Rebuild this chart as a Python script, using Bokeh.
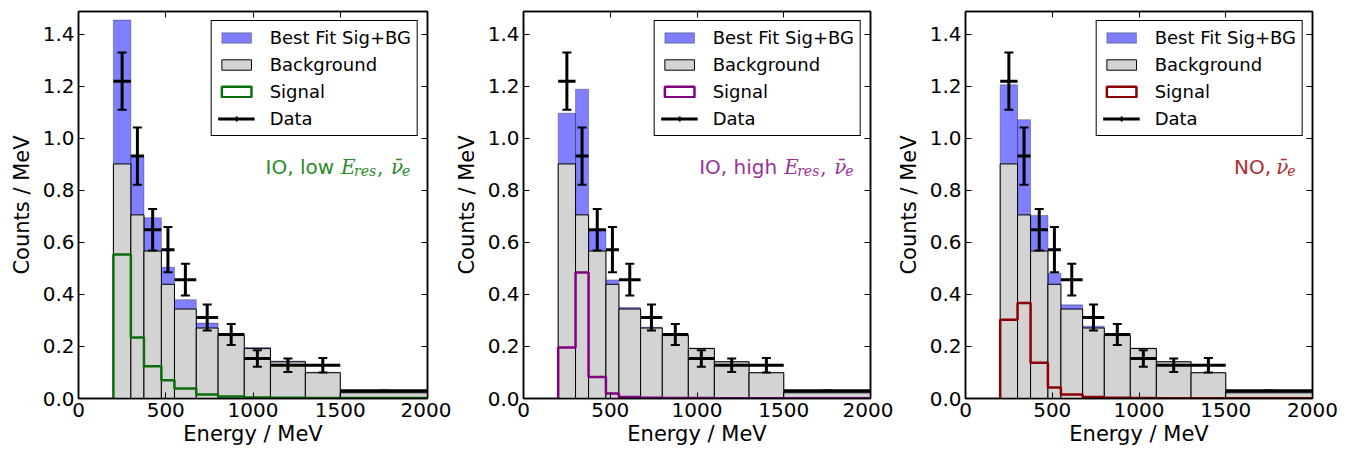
from bokeh.plotting import figure
from bokeh.layouts import row
from bokeh.models import (Range1d, LinearAxis, SingleIntervalTicker, PrintfTickFormatter,
                          CustomJSTickFormatter, Legend, LegendItem, Label)
from bokeh.embed import file_html
from bokeh.resources import INLINE

NAN = float("nan")

# ---------------- data ----------------
edges = [200, 300, 375, 475, 550, 675, 800, 950, 1100, 1300, 1500, 2000]

background = [0.902, 0.706, 0.567, 0.439, 0.344, 0.271, 0.242, 0.192, 0.141, 0.099, 0.022]

data_vals = [1.22, 0.932, 0.649, 0.572, 0.457, 0.311, 0.246, 0.154, 0.128, 0.128, 0.030]
data_errs = [0.11, 0.110, 0.080, 0.087, 0.061, 0.050, 0.040, 0.032, 0.026, 0.028, 0.0]

sig_io_low = [0.554, 0.235, 0.124, 0.070, 0.038, 0.015, 0.008, 0.004, 0.003, 0.002, 0.002]
best_io_low = [1.455, 0.934, 0.695, 0.505, 0.380, 0.290, 0.250, 0.196, 0.144, 0.101, 0.024]

sig_io_high = [0.196, 0.484, 0.083, 0.019, 0.006, 0.003, 0.002, 0.002, 0.001, 0.001, 0.001]
best_io_high = [1.097, 1.189, 0.648, 0.456, 0.350, 0.274, 0.244, 0.194, 0.142, 0.100, 0.023]

sig_no = [0.303, 0.367, 0.137, 0.042, 0.015, 0.006, 0.003, 0.002, 0.001, 0.001, 0.001]
best_no = [1.206, 1.072, 0.704, 0.481, 0.360, 0.278, 0.245, 0.194, 0.142, 0.100, 0.023]

legend_labels = ["Best Fit Sig+BG", "Background", "Signal", "Data"]
x_label = "Energy / MeV"
y_label = "Counts / MeV"

FONT = "DejaVu Sans"
SERIF = "DejaVu Serif"


def make_panel(best, sig, line_color, text_color, prefix, with_eres, bl, br):
    p = figure(width=bl + 349 + br, height=453, x_range=Range1d(0, 2000), y_range=Range1d(0, 1.488),
               output_backend="svg", toolbar_location=None,
               min_border_left=bl, min_border_right=br, min_border_top=11, min_border_bottom=55)
    p.xgrid.visible = False
    p.ygrid.visible = False
    p.outline_line_color = "black"
    p.outline_line_width = 1.5
    p.background_fill_color = "white"
    p.border_fill_color = "white"

    xt = SingleIntervalTicker(interval=500, num_minor_ticks=0)
    yt = SingleIntervalTicker(interval=0.2, num_minor_ticks=0)
    for ax, tk in ((p.xaxis[0], xt), (p.yaxis[0], yt)):
        ax.ticker = tk
        ax.major_tick_in = 6
        ax.major_tick_out = 0
        ax.minor_tick_in = 0
        ax.minor_tick_out = 0
        ax.major_tick_line_color = "black"
        ax.axis_line_color = "black"
        ax.axis_line_width = 1.5
        ax.major_label_text_font = FONT
        ax.major_label_text_font_size = "20px"
        ax.major_label_text_color = "black"
        ax.major_label_standoff = 4
        ax.axis_label_text_font = FONT
        ax.axis_label_text_font_size = "21px"
        ax.axis_label_text_font_style = "normal"
        ax.axis_label_text_color = "black"
    p.xaxis[0].axis_label = x_label
    p.yaxis[0].axis_label = y_label
    p.xaxis[0].axis_label_standoff = 2
    p.yaxis[0].axis_label_standoff = 6
    p.yaxis[0].formatter = PrintfTickFormatter(format="%.1f")

    blank = CustomJSTickFormatter(code="return ''")
    for loc, tk in (("above", xt), ("right", yt)):
        ax = LinearAxis(ticker=tk, formatter=blank, major_label_text_font_size="8px",
                        major_label_standoff=0,
                        major_tick_in=6, major_tick_out=0, minor_tick_in=0, minor_tick_out=0,
                        axis_line_color="black", axis_line_width=1.5,
                        major_tick_line_color="black")
        p.add_layout(ax, loc)

    lefts = edges[:-1]
    rights = edges[1:]
    centers = [(a + b) / 2 for a, b in zip(lefts, rights)]

    r_best = p.quad(left=lefts, right=rights, bottom=0, top=best,
                    fill_color="blue", fill_alpha=0.5, line_color="black", line_alpha=0.3,
                    line_width=1)
    r_bg = p.quad(left=lefts, right=rights, bottom=0, top=background,
                  fill_color="#d3d3d3", line_color="black", line_width=1)

    step_x = [edges[0]] + edges
    step_y = [0] + sig + [sig[-1]]
    p.step(x=step_x, y=step_y, mode="after", line_color=line_color, line_width=2.5)
    # legend-only swatch (NaN geometry: not drawn inside the frame)
    r_sig_leg = p.quad(left=[NAN], right=[NAN], bottom=[NAN], top=[NAN], fill_color="white",
                       line_color=line_color, line_width=2.5)

    lo = [v - e for v, e in zip(data_vals, data_errs)]
    hi = [v + e for v, e in zip(data_vals, data_errs)]
    r_h = p.segment(x0=lefts, x1=rights, y0=data_vals, y1=data_vals,
                    line_color="black", line_width=3)
    p.segment(x0=centers, x1=centers, y0=lo, y1=hi, line_color="black", line_width=3)
    p.scatter(x=centers, y=hi, marker="dash", size=9, line_color="black", line_width=2)
    p.scatter(x=centers, y=lo, marker="dash", size=9, line_color="black", line_width=2)
    r_cross = p.scatter(x=[NAN], y=[NAN], marker="cross", size=16, line_color="black",
                        line_width=2)

    legend = Legend(items=[
        LegendItem(label=legend_labels[0], renderers=[r_best]),
        LegendItem(label=legend_labels[1], renderers=[r_bg]),
        LegendItem(label=legend_labels[2], renderers=[r_sig_leg]),
        LegendItem(label=legend_labels[3], renderers=[r_h, r_cross]),
    ], location="top_right", margin=9, padding=6, spacing=6,
        glyph_width=37, glyph_height=13, label_height=21, label_standoff=15,
        label_text_font=FONT, label_text_font_size="18px", label_text_color="black",
        border_line_color="black", border_line_width=1.5, border_line_alpha=1,
        background_fill_color="white", background_fill_alpha=1)
    p.add_layout(legend)

    # annotation text, right-aligned near x=1900
    ax_, ay_ = 1900, 0.892
    if with_eres:
        p.add_layout(Label(x=ax_, y=ay_, x_offset=-76, text=prefix, text_align="right",
                           text_baseline="alphabetic", text_font=FONT, text_font_size="20px",
                           text_color=text_color))
        p.add_layout(Label(x=ax_, y=ay_, x_offset=-69, text="E", text_align="left",
                           text_baseline="alphabetic", text_font=SERIF, text_font_style="italic",
                           text_font_size="20px", text_color=text_color))
        p.add_layout(Label(x=ax_, y=ay_, x_offset=-56, y_offset=-4, text="res", text_align="left",
                           text_baseline="alphabetic", text_font=SERIF, text_font_style="italic",
                           text_font_size="14px", text_color=text_color))
        p.add_layout(Label(x=ax_, y=ay_, x_offset=-33, text=",", text_align="left",
                           text_baseline="alphabetic", text_font=SERIF,
                           text_font_size="20px", text_color=text_color))
    else:
        p.add_layout(Label(x=ax_, y=ay_, x_offset=-24, text=prefix, text_align="right",
                           text_baseline="alphabetic", text_font=FONT, text_font_size="20px",
                           text_color=text_color))
    p.add_layout(Label(x=ax_, y=ay_, x_offset=-19, text="\u03bd\u0304", text_align="left",
                       text_baseline="alphabetic", text_font=SERIF, text_font_style="italic",
                       text_font_size="20px", text_color=text_color))
    p.add_layout(Label(x=ax_, y=ay_, x_offset=-8, y_offset=-4, text="e", text_align="left",
                       text_baseline="alphabetic", text_font=SERIF, text_font_style="italic",
                       text_font_size="14px", text_color=text_color))
    return p


p1 = make_panel(best_io_low, sig_io_low, "#0a6e0a", "#2a8a2a", "IO, low", True, 78, 24)
p2 = make_panel(best_io_high, sig_io_high, "#800080", "#993399", "IO, high", True, 70, 23)
p3 = make_panel(best_no, sig_no, "#8b0000", "#aa3030", "NO,", False, 70, 35)

layout = row(p1, p2, p3, spacing=0)
open("out.html", "w").write(file_html(layout, INLINE))
